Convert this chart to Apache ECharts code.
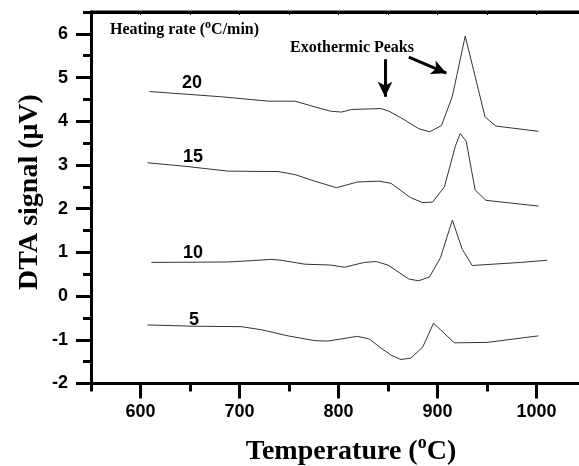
<!DOCTYPE html>
<html>
<head>
<meta charset="utf-8">
<script src="https://cdn.jsdelivr.net/npm/echarts@6/dist/echarts.min.js"></script>
<style>html,body{margin:0;padding:0;background:#fff}#chart{width:579px;height:466px}</style>
</head>
<body>
<div id="chart"></div>
<script>
// Heating rates (°C/min)
const rateLabels = ['20', '15', '10', '5'];
// Temperatures (°C) and DTA signals (µV) per heating rate
const temp20 = [609, 682, 729, 756, 776, 792, 803, 813, 843, 851, 863, 881, 892, 904, 915, 928, 948, 959, 1002];
const dta20  = [4.68, 4.56, 4.46, 4.46, 4.33, 4.23, 4.21, 4.27, 4.29, 4.23, 4.08, 3.83, 3.76, 3.90, 4.57, 5.95, 4.10, 3.89, 3.77];
const temp15 = [607, 645, 688, 729, 739, 756, 776, 798, 819, 841, 853, 873, 885, 895, 907, 918, 923, 929, 938, 949, 1002];
const dta15  = [3.05, 2.97, 2.86, 2.85, 2.85, 2.78, 2.63, 2.48, 2.61, 2.63, 2.58, 2.25, 2.14, 2.15, 2.50, 3.43, 3.72, 3.54, 2.43, 2.19, 2.06];
const temp10 = [611, 688, 712, 732, 742, 766, 792, 806, 826, 838, 850, 871, 881, 892, 903, 915, 925, 935, 984, 1011];
const dta10  = [0.77, 0.78, 0.81, 0.84, 0.82, 0.73, 0.71, 0.66, 0.77, 0.79, 0.71, 0.39, 0.35, 0.44, 0.88, 1.74, 1.07, 0.70, 0.77, 0.82];
const temp5  = [607, 655, 702, 722, 749, 776, 789, 803, 819, 831, 843, 853, 863, 873, 885, 896, 917, 950, 1002];
const dta5   = [-0.66, -0.69, -0.70, -0.77, -0.91, -1.02, -1.03, -0.98, -0.92, -0.98, -1.19, -1.35, -1.45, -1.42, -1.17, -0.62, -1.07, -1.06, -0.91];
// Axis ticks
const xTicks = [600, 700, 800, 900, 1000];
const yTicks = [-2, -1, 0, 1, 2, 3, 4, 5, 6];
// Arrow annotations: [startT, startV, endT, endV]
const arrowDown = [847, 5.42, 847, 4.56];
const arrowDiag = [871, 5.47, 909, 5.10];

const zip = (a, b) => a.map((v, i) => [v, b[i]]);
const chart = echarts.init(document.getElementById('chart'));
const sans = 'Liberation Sans, Arial, sans-serif';
const serif = 'Liberation Serif, Times New Roman, serif';
const lineSeries = (name, t, d) => ({
  name, type: 'line', xAxisIndex: 0, yAxisIndex: 0, data: zip(t, d),
  showSymbol: false, smooth: false, animation: false,
  lineStyle: { color: '#333', width: 1 }
});
const arrowStyle = { color: '#000', width: 3, type: 'solid' };
const gridBox = { left: 91, right: -7, top: 12, bottom: 82.5, containLabel: false, outerBoundsMode: 'none' };
const xRange = { type: 'value', min: 550, max: 1050, interval: 50 };
const yRange = { type: 'value', min: -2, max: 6.5, interval: 0.5 };
const blk = { color: '#000', width: 3 };

chart.setOption({
  animation: false,
  grid: [Object.assign({}, gridBox), Object.assign({}, gridBox)],
  xAxis: [
    Object.assign({ gridIndex: 0, position: 'bottom',
      axisLine: { show: true, onZero: false, lineStyle: blk },
      axisTick: { show: true, length: 8, lineStyle: blk },
      axisLabel: { show: false }, splitLine: { show: false } }, xRange),
    Object.assign({ gridIndex: 1, position: 'top',
      axisLine: { show: true, onZero: false, lineStyle: blk },
      axisTick: { show: true, inside: true, length: 3, lineStyle: { color: '#000', width: 1 } },
      axisLabel: { show: false }, splitLine: { show: false } }, xRange),
    Object.assign({ gridIndex: 1, position: 'bottom',
      axisLine: { show: false, onZero: false },
      axisTick: { show: true, customValues: xTicks, length: 15, lineStyle: blk },
      axisLabel: { customValues: xTicks, formatter: v => String(v), margin: 20, color: '#000', fontFamily: sans, fontWeight: 'bold', fontSize: 18 },
      splitLine: { show: false } }, xRange)
  ],
  yAxis: [
    Object.assign({ gridIndex: 0, position: 'left',
      axisLine: { show: true, onZero: false, lineStyle: blk },
      axisTick: { show: true, length: 8, lineStyle: blk },
      axisLabel: { show: false }, splitLine: { show: false } }, yRange),
    Object.assign({ gridIndex: 1, position: 'left',
      axisLine: { show: false, onZero: false },
      axisTick: { show: true, customValues: yTicks, length: 15, lineStyle: blk },
      axisLabel: { customValues: yTicks, margin: 23, color: '#000', fontFamily: sans, fontWeight: 'bold', fontSize: 18 },
      splitLine: { show: false } }, yRange)
  ],
  series: [
    Object.assign(lineSeries(rateLabels[0], temp20, dta20), {
      markLine: { silent: true, animation: false, symbol: ['none', 'arrow'], symbolSize: [11, 15],
        label: { show: false }, lineStyle: arrowStyle,
        data: [
          [{ coord: [arrowDown[0], arrowDown[1]] }, { coord: [arrowDown[2], arrowDown[3]] }],
          [{ coord: [arrowDiag[0], arrowDiag[1]] }, { coord: [arrowDiag[2], arrowDiag[3]] }]
        ] }
    }),
    lineSeries(rateLabels[1], temp15, dta15),
    lineSeries(rateLabels[2], temp10, dta10),
    lineSeries(rateLabels[3], temp5, dta5)
  ],
  graphic: [
    { type: 'line', z: 100, shape: { x1: 90, y1: 12, x2: 579, y2: 12 }, style: { stroke: '#000', lineWidth: 3 } },
    { type: 'text', x: 30, y: 192, rotation: Math.PI / 2,
      style: { text: 'DTA signal (μV)', font: 'bold 28px ' + serif, fill: '#000', align: 'center', verticalAlign: 'middle' } },
    { type: 'text', x: 351, y: 452,
      style: { text: 'Temperature ({s|o}C)', font: 'bold 28px ' + serif, fill: '#000', align: 'center', verticalAlign: 'middle',
        rich: { s: { font: 'bold 18px ' + serif, verticalAlign: 'top', padding: [0, 0, 18, 0] } } } },
    { type: 'text', x: 110, y: 30,
      style: { text: 'Heating rate ({s|o}C/min)', font: 'bold 16px ' + serif, fill: '#000', align: 'left', verticalAlign: 'middle',
        rich: { s: { font: 'bold 12px ' + serif, verticalAlign: 'top', padding: [0, 0, 10, 0] } } } },
    { type: 'text', x: 290, y: 48,
      style: { text: 'Exothermic Peaks', font: 'bold 16px ' + serif, fill: '#000', align: 'left', verticalAlign: 'middle' } },
    { type: 'text', x: 192, y: 83, style: { text: rateLabels[0], font: 'bold 18px ' + sans, fill: '#000', align: 'center', verticalAlign: 'middle' } },
    { type: 'text', x: 193, y: 157, style: { text: rateLabels[1], font: 'bold 18px ' + sans, fill: '#000', align: 'center', verticalAlign: 'middle' } },
    { type: 'text', x: 193, y: 253, style: { text: rateLabels[2], font: 'bold 18px ' + sans, fill: '#000', align: 'center', verticalAlign: 'middle' } },
    { type: 'text', x: 194, y: 320, style: { text: rateLabels[3], font: 'bold 18px ' + sans, fill: '#000', align: 'center', verticalAlign: 'middle' } }
  ]
});
</script>
</body>
</html>
